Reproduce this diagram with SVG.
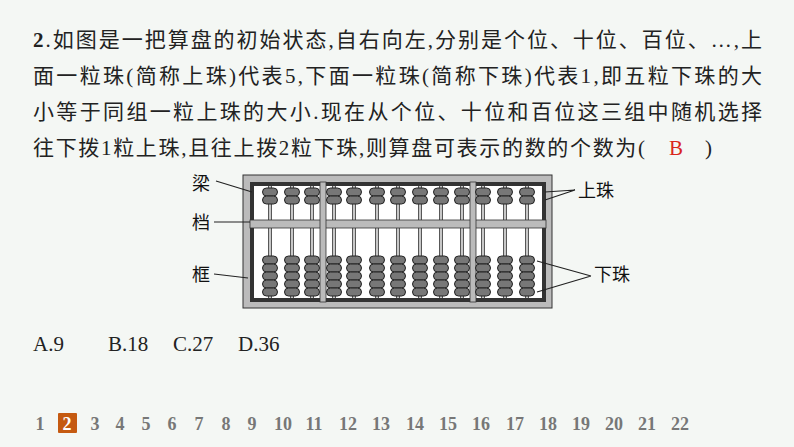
<svg xmlns="http://www.w3.org/2000/svg" width="794" height="447" viewBox="0 0 794 447">
<style>
.t{font-family:"Liberation Serif","Noto Sans CJK SC",serif;font-size:21px;fill:#222}
.l{font-family:"Noto Sans CJK SC",sans-serif;font-size:18px;fill:#111}
.pg{font-family:"Liberation Serif",serif;font-size:18px;font-weight:bold;fill:#777;text-anchor:middle}
.ln{stroke:#222;stroke-width:1.2;fill:none}
.rod{stroke:#222;stroke-width:3.5}
.rodi{stroke:#fff;stroke-width:1.5}
.bar{fill:#bbb;stroke:#333;stroke-width:0.8}
</style>
<defs>
<g id="b"><rect x="-7.5" y="-4" width="15" height="8" rx="4" fill="#777" stroke="#222" stroke-width="1"/></g>
<g id="col"><use href="#b" y="192"/><use href="#b" y="200"/><use href="#b" y="260"/><use href="#b" y="268"/><use href="#b" y="276"/><use href="#b" y="284"/><use href="#b" y="292"/></g>
</defs>
<rect width="794" height="447" fill="#f4f7f4"/>
<g id="question">
<text class="t" x="33" y="47" textLength="729" lengthAdjust="spacing"><tspan font-weight="bold">2</tspan>.如图是一把算盘的初始状态,自右向左,分别是个位、十位、百位、…,上</text>
<text class="t" x="33" y="83" textLength="729" lengthAdjust="spacing">面一粒珠(简称上珠)代表5,下面一粒珠(简称下珠)代表1,即五粒下珠的大</text>
<text class="t" x="33" y="119" textLength="729" lengthAdjust="spacing">小等于同组一粒上珠的大小.现在从个位、十位和百位这三组中随机选择</text>
<text class="t" x="33" y="155" textLength="612" lengthAdjust="spacing">往下拨1粒上珠,且往上拨2粒下珠,则算盘可表示的数的个数为(</text>
<text class="t" x="669" y="155" style="fill:#d9261c">B</text>
<text class="t" x="705" y="155">)</text>
</g>
<g id="abacus">
<rect x="243" y="175" width="309" height="133" fill="#bbb" stroke="#333" stroke-width="1"/>
<rect x="250" y="182" width="296" height="120" fill="#333"/>
<rect x="254" y="186" width="288" height="34" fill="#fff"/>
<rect x="254" y="228" width="288" height="70" fill="#fff"/>
<path class="rod" d="M270 186V298M292 186V298M312 186V298M334 186V298M354 186V298M377 186V298M398 186V298M420 186V298M441 186V298M462 186V298M483 186V298M505 186V298M527 186V298"/>
<path class="rodi" d="M270 186V298M292 186V298M312 186V298M334 186V298M354 186V298M377 186V298M398 186V298M420 186V298M441 186V298M462 186V298M483 186V298M505 186V298M527 186V298"/>
<rect class="bar" x="250" y="220" width="296" height="8"/>
<rect class="bar" x="320" y="182" width="6" height="120"/>
<rect class="bar" x="470" y="182" width="6" height="120"/>
<g id="beads">
<use href="#col" x="270"/><use href="#col" x="292"/><use href="#col" x="312"/><use href="#col" x="334"/><use href="#col" x="354"/><use href="#col" x="377"/><use href="#col" x="398"/><use href="#col" x="420"/><use href="#col" x="441"/><use href="#col" x="462"/><use href="#col" x="483"/><use href="#col" x="505"/><use href="#col" x="527"/>
</g>
</g>
<g id="connectors">
<path class="ln" d="M216 181L252 192M214 222H250M214 274L248 278M545 192L575 190M545 200L575 190M537 261L591 276M537 292L591 276"/>
</g>
<g id="labels">
<text class="l" x="192" y="190">梁</text>
<text class="l" x="192" y="229">档</text>
<text class="l" x="192" y="281">框</text>
<text class="l" x="578" y="197">上珠</text>
<text class="l" x="594" y="281">下珠</text>
</g>
<g id="options">
<text class="t" x="33" y="351">A.9</text>
<text class="t" x="108" y="351">B.18</text>
<text class="t" x="173" y="351">C.27</text>
<text class="t" x="238" y="351">D.36</text>
</g>
<g id="pages">
<rect x="58" y="413" width="19" height="20" fill="#c55a11" rx="1"/>
<text class="pg" x="40" y="430">1</text>
<text class="pg" x="67" y="430" style="fill:#fff">2</text>
<text class="pg" x="95" y="430">3</text><text class="pg" x="120" y="430">4</text><text class="pg" x="146" y="430">5</text><text class="pg" x="172" y="430">6</text><text class="pg" x="199" y="430">7</text><text class="pg" x="226" y="430">8</text><text class="pg" x="252" y="430">9</text><text class="pg" x="283" y="430">10</text><text class="pg" x="314" y="430">11</text><text class="pg" x="348" y="430">12</text><text class="pg" x="381" y="430">13</text><text class="pg" x="415" y="430">14</text><text class="pg" x="448" y="430">15</text><text class="pg" x="481" y="430">16</text><text class="pg" x="515" y="430">17</text><text class="pg" x="548" y="430">18</text><text class="pg" x="581" y="430">19</text><text class="pg" x="614" y="430">20</text><text class="pg" x="647" y="430">21</text><text class="pg" x="680" y="430">22</text>
</g>
</svg>
